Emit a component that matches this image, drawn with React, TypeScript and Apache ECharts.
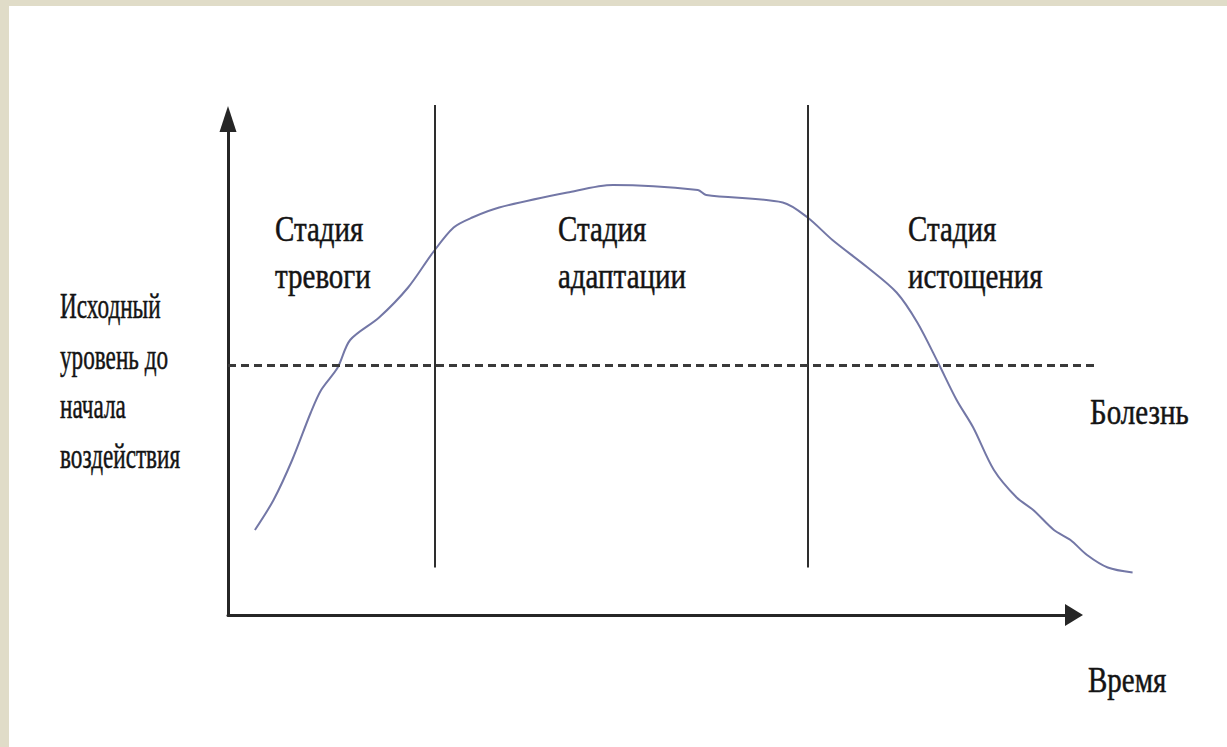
import React, { useEffect, useRef } from "react";
import * as echarts from "echarts";

// Curve: stress response level over time (time units, level units)
const timeValues = [1.3, 2.2, 3.1, 4.0, 4.5, 5.3, 5.9, 7.3, 8.7, 9.9, 10.9, 11.8, 13.1, 16.4, 18.6, 22.7, 23.1, 26.8, 28.0, 29.2, 30.9, 32.3, 33.3, 34.3, 35.2, 36.0, 37.0, 38.1, 38.9, 39.9, 40.7, 41.5, 42.5, 43.7];
const levelValues = [3.4, 4.6, 6.2, 8.1, 9.0, 9.9, 11.0, 11.9, 13.1, 14.5, 15.5, 15.9, 16.3, 16.9, 17.2, 17.0, 16.8, 16.5, 15.9, 15.0, 13.9, 12.9, 11.7, 10.1, 8.6, 7.5, 5.8, 4.7, 4.2, 3.4, 3.0, 2.4, 1.9, 1.7];

// Stage boundaries (time) and baseline level
const stageBoundaries = [10, 28];
const stageLineRange = [1.9, 20.4];
const baselineLevel = 10;
const baselineEnd = 41.9;

const stageTitles = ["Стадия", "Стадия", "Стадия"];
const stageNames = ["тревоги", "адаптации", "истощения"];
const baselineLabel = ["Исходный", "уровень до", "начала", "воздействия"];
const diseaseLabel = "Болезнь";
const timeLabel = "Время";

export default function App() {
  const ref = useRef<HTMLDivElement>(null);
  useEffect(() => {
    if (!ref.current) return;
    const chart = echarts.init(ref.current, null, { renderer: "svg" });
    const font = "29px 'Liberation Serif', 'Times New Roman', serif";
    const txt = (text: string, x: number, y: number, scaleX = 1) => ({
      type: "text",
      x,
      y,
      scaleX,
      scaleY: 1.25,
      z: 10,
      style: { text, font, fill: "#141414", stroke: "#141414", lineWidth: 0.4, align: "left", verticalAlign: "middle" },
    });
    const stageX = [275, 558, 908];
    const graphics: any[] = [
      { type: "rect", z: -10, shape: { x: 0, y: 0, width: 1227, height: 6 }, style: { fill: "#e0dcc8" } },
      { type: "rect", z: -10, shape: { x: 0, y: 0, width: 9, height: 747 }, style: { fill: "#e0dcc8" } },
    ];
    stageTitles.forEach((t, i) => {
      graphics.push(txt(t, stageX[i], 229));
      graphics.push(txt(stageNames[i], stageX[i], 276));
    });
    const leftY = [306, 357, 406, 456];
    baselineLabel.forEach((t, i) => graphics.push(txt(t, 60, leftY[i], 0.8)));
    graphics.push(txt(diseaseLabel, 1090, 412));
    graphics.push(txt(timeLabel, 1088, 680));

    const data = timeValues.map((t, i) => [t, levelValues[i]]);

    chart.setOption({
      animation: false,
      backgroundColor: "#ffffff",
      graphic: graphics,
      grid: [
        { left: 228, right: 67.5, top: 90, bottom: 132 },
        { left: 228, right: 153, top: 119, bottom: 132 },
      ],
      xAxis: [
        { type: "value", gridIndex: 0, min: 0, max: 45, show: false },
        {
          type: "value", gridIndex: 1, min: 0, max: 1,
          axisLine: { show: true, symbol: ["none", "triangle"], symbolSize: [22, 18], lineStyle: { color: "#262626", width: 3 } },
          axisTick: { show: false }, axisLabel: { show: false }, splitLine: { show: false },
        },
      ],
      yAxis: [
        { type: "value", gridIndex: 0, min: 0, max: 21, show: false },
        {
          type: "value", gridIndex: 1, min: 0, max: 1,
          axisLine: { show: true, symbol: ["none", "triangle"], symbolSize: [17, 26], lineStyle: { color: "#262626", width: 3 } },
          axisTick: { show: false }, axisLabel: { show: false }, splitLine: { show: false },
        },
      ],
      series: [
        {
          type: "line",
          xAxisIndex: 0,
          yAxisIndex: 0,
          data,
          smooth: 0.3,
          showSymbol: false,
          clip: false,
          lineStyle: { color: "#7377a6", width: 2 },
          markLine: {
            silent: true,
            symbol: ["none", "none"],
            label: { show: false },
            data: [
              ...stageBoundaries.map((b) => [
                { coord: [b, stageLineRange[0]], lineStyle: { color: "#2e2e2e", width: 2, type: "solid" } },
                { coord: [b, stageLineRange[1]] },
              ]),
              [
                { coord: [0, baselineLevel], lineStyle: { color: "#3a3a3a", width: 3, type: [8, 5] } },
                { coord: [baselineEnd, baselineLevel] },
              ],
            ],
          },
        },
      ],
    });
    return () => chart.dispose();
  }, []);
  return (
    <div
      ref={ref}
      style={{ position: "fixed", left: 0, top: 0, width: 1227, height: 747 }}
    />
  );
}
